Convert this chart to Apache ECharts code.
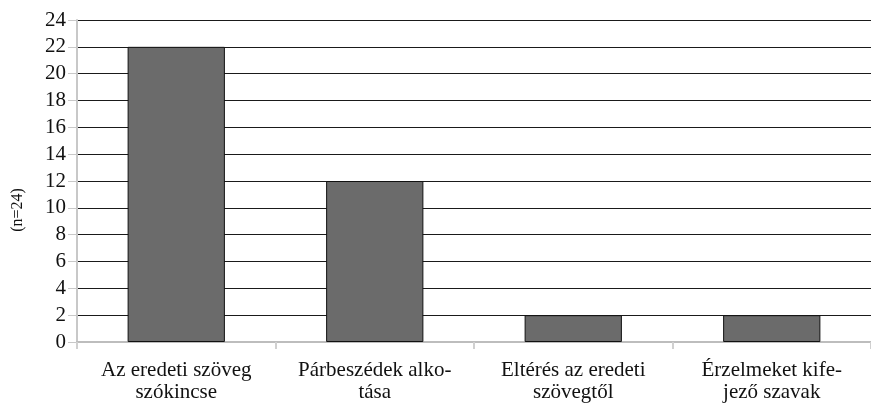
<!DOCTYPE html>
<html>
<head>
<meta charset="utf-8">
<script src="https://cdn.jsdelivr.net/npm/echarts@6/dist/echarts.min.js"></script>
<style>
  html, body { margin: 0; padding: 0; background: #fff; }
  #chart { width: 871px; height: 403px; }
</style>
</head>
<body>
<div id="chart"></div>
<script>
// Categories (hyphenated line breaks as printed)
const categories = [
  'Az eredeti szöveg\nszókincse',
  'Párbeszédek alko-\ntása',
  'Eltérés az eredeti\nszövegtől',
  'Érzelmeket kife-\njező szavak'
];
const counts = [22, 12, 2, 2];
const yAxisTitle = '(n=24)';

const serif = 'Liberation Serif';

const chart = echarts.init(document.getElementById('chart'));
chart.setOption({
  animation: false,
  backgroundColor: '#ffffff',
  textStyle: { fontFamily: serif },
  grid: { left: 77, right: -8, top: 20, bottom: 59, containLabel: false },
  graphic: [{
    type: 'text',
    x: 18,
    y: 210,
    rotation: Math.PI / 2,
    style: {
      text: yAxisTitle,
      fontFamily: serif,
      fontSize: 16,
      fill: '#111',
      align: 'center',
      verticalAlign: 'middle'
    }
  }],
  xAxis: {
    type: 'category',
    data: categories,
    axisLine: { show: true, lineStyle: { color: '#bdbdbd', width: 2 } },
    axisTick: { show: true, alignWithLabel: false, length: 7, lineStyle: { color: '#d0d0d0', width: 2 } },
    axisLabel: {
      color: '#111',
      fontFamily: serif,
      fontSize: 21,
      lineHeight: 22,
      margin: 17,
      interval: 0
    },
    splitLine: { show: false }
  },
  yAxis: {
    type: 'value',
    min: 0,
    max: 24,
    interval: 2,
    axisLine: { show: true, lineStyle: { color: '#c8c8c8', width: 2 } },
    axisTick: { show: true, length: 9, lineStyle: { color: '#c8c8c8', width: 1 } },
    axisLabel: { color: '#111', fontFamily: serif, fontSize: 21, margin: 11 },
    splitLine: { show: true, lineStyle: { color: '#1a1a1a', width: 1 } }
  },
  series: [{
    type: 'bar',
    data: counts,
    barWidth: '49%',
    itemStyle: { color: '#6b6b6b', borderColor: '#111', borderWidth: 1 },
    z: 3
  }]
});
</script>
</body>
</html>
